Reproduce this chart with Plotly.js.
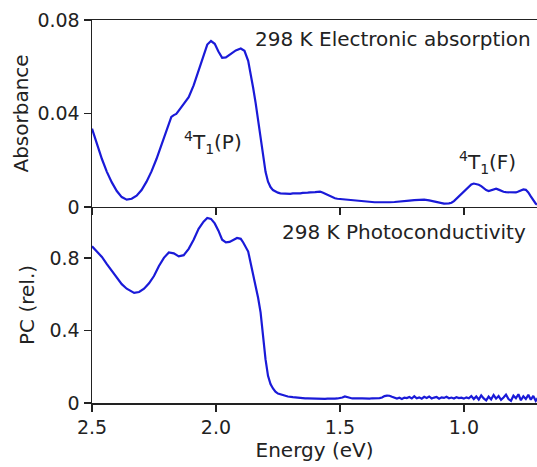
<!DOCTYPE html>
<html>
<head>
<meta charset="utf-8">
<script src="https://cdn.plot.ly/plotly-3.0.1.min.js"></script>
<style>html,body{margin:0;padding:0;background:#fff;}#chart{width:537px;height:467px;}</style>
</head>
<body>
<div id="chart"></div>
<script>
// Electronic absorption (298 K): energy (eV) and absorbance
const absEnergy = [2.50,2.48,2.46,2.44,2.42,2.40,2.38,2.36,2.34,2.32,2.30,2.28,2.26,2.24,2.22,2.20,2.19,2.18,2.17,2.16,2.15,2.13,2.11,2.09,2.07,2.05,2.035,2.02,2.005,1.99,1.975,1.96,1.94,1.92,1.90,1.885,1.87,1.86,1.85,1.84,1.83,1.82,1.81,1.80,1.79,1.78,1.77,1.76,
1.75,1.74,1.73,1.72,1.71,1.70,1.69,1.68,1.67,1.66,1.65,1.64,1.63,1.62,1.61,1.60,1.59,1.58,1.57,1.56,1.55,1.54,1.53,1.52,1.51,1.50,1.49,1.48,1.47,1.46,1.45,1.44,1.42,1.40,1.38,1.36,1.34,1.32,1.30,1.28,1.26,1.24,1.22,1.20,1.18,1.16,1.14,1.12,1.10,1.08,1.06,1.05,1.04,1.03,1.02,1.01,1.00,0.99,0.98,0.97,0.96,0.95,0.94,0.93,0.92,0.91,0.90,0.89,0.88,0.87,0.86,0.85,0.84,0.83,0.82,0.81,0.80,0.79,0.78,0.77,0.76,0.75,0.74,0.73,0.72,0.71,0.705];
const absorbance = [0.0335,0.0265,0.0205,0.0150,0.0105,0.0068,0.0042,0.0031,0.0035,0.0048,0.0072,0.0108,0.0152,0.0205,0.0265,0.0325,0.0360,0.0385,0.0393,0.0398,0.0412,0.0440,0.0470,0.0520,0.0585,0.0650,0.0695,0.0710,0.0698,0.0665,0.0638,0.0640,0.0655,0.0670,0.0678,0.0668,0.0625,0.0575,0.0510,0.0445,0.0375,0.0295,0.0215,0.0150,0.0108,0.0085,0.0072,0.0066,
0.0061,0.0058,0.0057,0.0056,0.0057,0.0056,0.0058,0.0057,0.0059,0.0058,0.0060,0.0059,0.0061,0.0062,0.0061,0.0063,0.0064,0.0065,0.0062,0.0057,0.0051,0.0044,0.0040,0.0037,0.0035,0.0034,0.0031,0.0032,0.0029,0.0028,0.0027,0.0026,0.0024,0.0022,0.0021,0.0020,0.0020,0.0019,0.0020,0.0021,0.0022,0.0024,0.0027,0.0029,0.0031,0.0031,0.0028,0.0024,0.0019,0.0014,0.0015,0.0018,0.0025,0.0035,0.0047,0.0058,0.0068,0.0078,0.0088,0.0096,0.0100,0.0099,0.0095,0.0089,0.0080,0.0072,0.0068,0.0072,0.0077,0.0078,0.0074,0.0069,0.0065,0.0063,0.0062,0.0061,0.0060,0.0062,0.0066,0.0071,0.0075,0.0073,0.0062,0.0045,0.0028,0.0014,0.0010];

// Photoconductivity (298 K): energy (eV) and relative PC
const pcEnergy = [2.50,2.48,2.46,2.44,2.42,2.40,2.38,2.36,2.34,2.33,2.31,2.29,2.27,2.25,2.23,2.21,2.19,2.17,2.15,2.13,2.11,2.09,2.07,2.05,2.035,2.02,2.005,1.99,1.975,1.96,1.945,1.93,1.915,1.90,1.89,1.87,1.86,1.85,1.84,1.83,1.82,1.81,1.80,1.79,1.78,1.77,1.76,1.75,1.73,1.71,1.69,
1.68,1.67,1.66,1.65,1.64,1.63,1.62,1.61,1.60,1.59,1.58,1.57,1.56,1.55,1.54,1.53,1.52,1.51,1.50,1.49,1.48,1.47,1.46,1.45,1.44,1.43,1.42,1.41,1.40,1.39,1.38,1.37,1.36,1.35,1.34,1.33,1.32,1.31,1.30,1.29,1.28,1.27,1.26,1.25,1.24,1.23,1.22,1.21,1.20,1.19,1.18,1.17,1.16,1.15,1.14,1.13,1.12,1.11,1.10,1.09,1.08,1.07,1.06,1.05,1.04,1.03,1.02,1.01,1.00,0.99,0.98,0.97,0.96,0.95,0.94,0.93,0.92,0.91,0.90,0.89,0.88,0.87,0.86,0.85,0.84,0.83,0.82,0.81,0.80,0.79,0.78,0.77,0.76,0.75,0.74,0.73,0.72,0.71,0.70];
const pcValues = [0.864,0.835,0.805,0.765,0.726,0.690,0.655,0.630,0.612,0.607,0.612,0.630,0.660,0.700,0.755,0.800,0.830,0.825,0.808,0.815,0.850,0.900,0.960,1.000,1.020,1.015,0.990,0.950,0.900,0.885,0.888,0.900,0.910,0.905,0.885,0.835,0.775,0.710,0.640,0.580,0.500,0.370,0.240,0.150,0.105,0.080,0.062,0.052,0.042,0.036,0.032,
0.030,0.029,0.028,0.027,0.026,0.026,0.025,0.025,0.024,0.024,0.023,0.024,0.023,0.024,0.023,0.025,0.024,0.025,0.026,0.030,0.036,0.032,0.027,0.025,0.026,0.024,0.025,0.026,0.024,0.025,0.024,0.026,0.025,0.024,0.027,0.030,0.038,0.041,0.040,0.034,0.027,0.024,0.029,0.022,0.030,0.027,0.033,0.025,0.037,0.026,0.031,0.024,0.034,0.028,0.036,0.025,0.030,0.033,0.024,0.031,0.028,0.034,0.026,0.030,0.025,0.032,0.027,0.029,0.024,0.031,0.026,0.038,0.022,0.036,0.019,0.042,0.025,0.014,0.035,0.020,0.044,0.024,0.038,0.017,0.030,0.046,0.022,0.012,0.040,0.026,0.048,0.015,0.037,0.022,0.045,0.018,0.039,0.012,0.030];

const xTickVals = [2.5, 2.0, 1.5, 1.0];
const xTickText = ['2.5', '2.0', '1.5', '1.0'];
const absTickVals = [0, 0.04, 0.08];
const absTickText = ['0', '0.04', '0.08'];
const pcTickVals = [0, 0.4, 0.8];
const pcTickText = ['0', '0.4', '0.8'];

const lineColor = '#1a1ad8';
const axisColor = '#222222';
const FONT = 'DejaVu Sans, Liberation Sans, Arial, sans-serif';
const textFont = {family: FONT, size: 20, color: '#222'};

const traces = [
  {x: pcEnergy, y: pcValues, xaxis: 'x', yaxis: 'y', type: 'scatter', mode: 'lines',
   line: {color: lineColor, width: 2.2}, hoverinfo: 'skip', showlegend: false},
  {x: absEnergy, y: absorbance, xaxis: 'x2', yaxis: 'y2', type: 'scatter', mode: 'lines',
   line: {color: lineColor, width: 2.2}, hoverinfo: 'skip', showlegend: false}
];

const axisCommon = {
  showgrid: false, zeroline: false, showline: true, linecolor: axisColor, linewidth: 1.5,
  ticks: 'outside', ticklen: 7, tickwidth: 1.5, tickcolor: axisColor,
  tickfont: {family: FONT, size: 19, color: '#222'}
};

const layout = {
  width: 537, height: 467,
  margin: {l: 92, r: 0, t: 20, b: 64},
  paper_bgcolor: '#fff', plot_bgcolor: '#fff',
  font: {family: FONT, size: 19, color: '#222'},
  xaxis: Object.assign({}, axisCommon, {
    domain: [0, 1], anchor: 'y', range: [2.5, 0.705],
    tickmode: 'array', tickvals: xTickVals, ticktext: xTickText,
    title: {text: 'Energy (eV)', font: textFont, standoff: 4}
  }),
  xaxis2: Object.assign({}, axisCommon, {
    domain: [0, 1], anchor: 'y2', matches: 'x', range: [2.5, 0.705],
    tickmode: 'array', tickvals: xTickVals, ticktext: xTickText,
    showticklabels: false, mirror: true
  }),
  yaxis: Object.assign({}, axisCommon, {
    domain: [0, 0.512], anchor: 'x', range: [0, 1.081],
    tickmode: 'array', tickvals: pcTickVals, ticktext: pcTickText,
    title: {text: 'PC (rel.)', font: textFont, standoff: 9}
  }),
  yaxis2: Object.assign({}, axisCommon, {
    domain: [0.512, 1], anchor: 'x2', range: [0, 0.08],
    tickmode: 'array', tickvals: absTickVals, ticktext: absTickText,
    title: {text: 'Absorbance', font: textFont, standoff: 3}
  }),
  annotations: [
    {text: '298 K Electronic absorption', xref: 'x2', yref: 'y2', x: 0.722, y: 0.0717,
     xanchor: 'right', yanchor: 'middle', showarrow: false, font: textFont},
    {text: '<sup>4</sup>T<sub>1</sub>(P)', xref: 'x2', yref: 'y2', x: 2.012, y: 0.0275,
     xanchor: 'center', yanchor: 'middle', showarrow: false, font: textFont},
    {text: '<sup>4</sup>T<sub>1</sub>(F)', xref: 'x2', yref: 'y2', x: 0.903, y: 0.019,
     xanchor: 'center', yanchor: 'middle', showarrow: false, font: textFont},
    {text: '298 K Photoconductivity', xref: 'x', yref: 'y', x: 0.74, y: 0.94,
     xanchor: 'right', yanchor: 'middle', showarrow: false, font: textFont}
  ]
};

Plotly.newPlot('chart', traces, layout, {displayModeBar: false, staticPlot: true});
</script>
</body>
</html>
